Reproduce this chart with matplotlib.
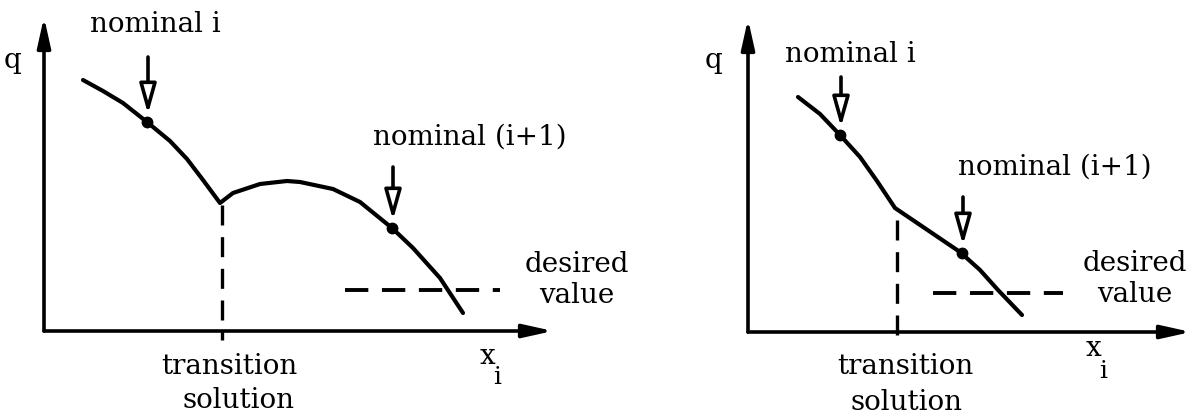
import matplotlib.pyplot as plt

# sketch, in pixel units (y grows downwards)
left_curve_x = [83, 103, 123, 147, 170, 187, 203, 220, 233, 260, 287, 300, 333, 360, 392, 413, 440, 463]
left_curve_y = [80, 91, 103, 122, 141, 159, 180, 203, 193, 184, 181, 182, 189, 202, 228, 248, 278, 313]
left_nominal_x = [147, 392]
left_nominal_y = [122, 228]

right_curve_x = [798, 820, 840, 860, 877, 895, 960, 980, 998, 1022]
right_curve_y = [97, 114, 135, 157, 181, 208, 252, 270, 290, 315]
right_nominal_x = [840, 962]
right_nominal_y = [135, 253]

nominal_labels = ['nominal i', 'nominal (i+1)']
desired_label = 'desired\nvalue'
transition_label = 'transition'
solution_label = 'solution'

FONT = dict(family='DejaVu Serif', fontsize=20, color='black')

fig = plt.figure(figsize=(12.01, 4.2), dpi=100)
ax = fig.add_axes([0, 0, 1, 1])
ax.set_xlim(0, 1201)
ax.set_ylim(420, 0)
ax.axis('off')


def axis_arrow(x0, y0, x1, y1):
    ax.annotate('', xy=(x1, y1), xytext=(x0, y0),
                arrowprops=dict(arrowstyle='-|>,head_length=0.9,head_width=0.2',
                                mutation_scale=20, lw=2.6, color='black',
                                shrinkA=0, shrinkB=0))


def down_arrow(x, y_top, y_tip):
    ax.annotate('', xy=(x, y_tip), xytext=(x, y_top),
                arrowprops=dict(arrowstyle='-|>,head_length=1.0,head_width=0.28',
                                mutation_scale=18, lw=2.6, fc='white', ec='black',
                                shrinkA=0, shrinkB=0))


def panel(cx, cy, nx, ny, origin, x_end, y_top, trans_x, trans_top,
          desired_x0, desired_x1, desired_y, arrow_tops, text_pos):
    ox, oy = origin
    axis_arrow(ox, oy, ox, y_top)
    axis_arrow(ox, oy, x_end, oy)
    ax.plot(cx, cy, color='black', lw=3, solid_capstyle='round', solid_joinstyle='round')
    ax.plot(nx, ny, 'o', ms=7, mfc='black', mec='black', mew=1.5)
    ax.plot([trans_x, trans_x], [trans_top, oy + 9], color='black', lw=2.4,
            linestyle=(0, (6, 3.5)))
    ax.plot([desired_x0, desired_x1], [desired_y, desired_y], color='black', lw=2.8,
            linestyle=(0, (6, 3.5)))
    for x, y, top in zip(nx, ny, arrow_tops):
        down_arrow(x + 1, top, y - 8)
    for (tx, ty), s in zip(text_pos['nominal'], nominal_labels):
        ax.text(tx, ty, s, ha='center', va='center', **FONT)
    ax.text(*text_pos['desired'], desired_label, ha='center', va='center',
            linespacing=1.15, **FONT)
    ax.text(*text_pos['transition'], transition_label, ha='center', va='center', **FONT)
    ax.text(*text_pos['solution'], solution_label, ha='center', va='center', **FONT)
    ax.text(*text_pos['q'], 'q', ha='center', va='center', **FONT)
    qx, qy = text_pos['x']
    ax.text(qx, qy, 'x', ha='center', va='center', **FONT)
    ax.text(qx + 10, qy + 22, 'i', ha='center', va='center',
            family='DejaVu Serif', fontsize=18, color='black')


panel(left_curve_x, left_curve_y, left_nominal_x, left_nominal_y,
      origin=(44, 331), x_end=553, y_top=17, trans_x=222, trans_top=205,
      desired_x0=345, desired_x1=500, desired_y=290, arrow_tops=[57, 167],
      text_pos={'nominal': [(155, 24), (470, 137)], 'desired': (577, 280),
                'transition': (229, 367), 'solution': (238, 401),
                'q': (13, 60), 'x': (487, 356)})

panel(right_curve_x, right_curve_y, right_nominal_x, right_nominal_y,
      origin=(748, 332), x_end=1191, y_top=19, trans_x=897, trans_top=220,
      desired_x0=933, desired_x1=1063, desired_y=293, arrow_tops=[77, 197],
      text_pos={'nominal': [(850, 54), (1055, 167)], 'desired': (1135, 279),
                'transition': (905, 367), 'solution': (907, 402),
                'q': (714, 60), 'x': (1093, 349)})

fig.savefig('out.png', dpi=100)
